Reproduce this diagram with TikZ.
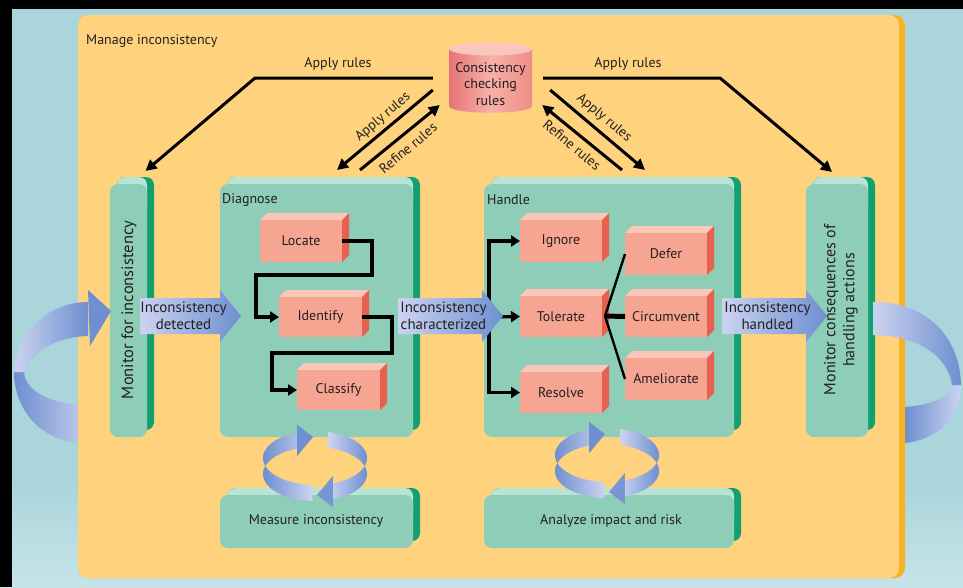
\documentclass[tikz,border=0pt]{standalone}
\usepackage{fontspec}
\setmainfont{PT Sans}
\usetikzlibrary{arrows.meta,calc}

\definecolor{bgblue}{HTML}{A9D5DB}
\definecolor{bgblue2}{HTML}{C6E4E8}
\definecolor{panel}{HTML}{FFD27E}
\definecolor{paneledge}{HTML}{F6B324}
\definecolor{gfront}{HTML}{8ECDB7}
\definecolor{gtop}{HTML}{B9E3D5}
\definecolor{gside}{HTML}{13A071}
\definecolor{pfront}{HTML}{F6A593}
\definecolor{ptop}{HTML}{FAC8B8}
\definecolor{pside}{HTML}{E8604F}
\definecolor{alight}{HTML}{CCD3F0}
\definecolor{adark}{HTML}{6E8FD0}
\definecolor{ink}{HTML}{231F20}
\definecolor{cylA}{HTML}{E67476}
\definecolor{cylB}{HTML}{F7B1A8}
\definecolor{cylC}{HTML}{EE8E88}
\definecolor{cyltop}{HTML}{F9C6BD}

% green 3D slab: x1 y1 x2 y2 name (front face as a node)
\newcommand\greenslab[5]{%
  \fill[gside,rounded corners=8pt] (#1+7,#2-7) rectangle (#3+7,#4-7);
  \fill[gtop,rounded corners=8pt] (#1+7,#2-7) rectangle (#3,#2+30);
  \node[slab,minimum width={#3-#1},minimum height={#4-#2},anchor=north west] (#5) at (#1,#2) {};
}
% pink 3D box with a label
\newcommand\pinkbox[6]{%
  \fill[ptop] (#1,#2) -- (#1+7,#2-7) -- (#3+7,#2-7) -- (#3,#2) -- cycle;
  \fill[pside] (#3,#2) -- (#3+7,#2-7) -- (#3+7,#4-7) -- (#3,#4) -- cycle;
  \node[pbox,minimum width={#3-#1},minimum height={#4-#2},anchor=north west] (#5) at (#1,#2) {#6};
}
% broad shaded arrow carrying a label: x1 x2 ymid name text
\newcommand\fatarrow[5]{%
  \shade[left color=alight,right color=adark] (#1,#3-18) -- (#2-21,#3-18) -- (#2-21,#3-26) -- (#2,#3)
    -- (#2-21,#3+26) -- (#2-21,#3+18) -- (#1,#3+18) -- cycle;
  \node[flabel] (#4) at ({(#1+#2)/2-7},#3) {#5};
}
% pair of circling arrows: centre x, centre y
\newcommand\spinpair[2]{%
  \shade[left color=adark,right color=alight]
    plot[domain=93:250,samples=40] ({#1+52*cos(\x)},{#2+27*sin(\x)})
    -- plot[domain=250:93,samples=40] ({#1+52*cos(\x)},{#2+16+27*sin(\x)}) -- cycle;
  \fill[adark] (#1-17.8,#2-33) -- (#1-2,#2-21) -- (#1-17.8,#2-2) -- cycle;
  \shade[left color=alight,right color=adark]
    plot[domain=285:430,samples=40] ({#1+52*cos(\x)},{#2+27*sin(\x)})
    -- plot[domain=430:285,samples=40] ({#1+52*cos(\x)},{#2+16+27*sin(\x)}) -- cycle;
  \fill[adark!90!alight] (#1+17.8,#2+18) -- (#1+2,#2+37) -- (#1+17.8,#2+49) -- cycle;
}

\begin{document}
\begin{tikzpicture}[x=1pt,y=-1pt,
  font=\fontsize{14}{16}\selectfont, text=ink,
  slab/.style={fill=gfront,rounded corners=8pt,inner sep=0pt,outer sep=0pt},
  pbox/.style={fill=pfront,inner sep=0pt,outer sep=0pt},
  flabel/.style={align=center,font=\fontsize{15}{16.5}\selectfont,inner sep=0pt},
  link/.style={line width=3.2pt,-{Triangle[length=9pt,width=11pt]}},
  fan/.style={line width=2.4pt},
  conn/.style={line width=3pt,-{Triangle[length=11pt,width=11pt]}},
  lab/.style={font=\fontsize{14}{15}\selectfont,inner sep=0pt}]
\useasboundingbox (0,0) rectangle (963,587);

% backdrop and frame
\fill[bgblue] (0,0) rectangle (963,480);
\shade[top color=bgblue,bottom color=bgblue2] (0,480) rectangle (963,587);
\fill[black] (0,0) rectangle (963,9);
\fill[black] (0,0) rectangle (12,587);

% lower halves of the outer loop arrows
\shade[left color=adark,right color=alight!80!adark]
  (14,372) .. controls (15,415) and (45,440) .. (78,443) -- (78,405)
  .. controls (50,402) and (26,392) .. (24,372) -- cycle;
\shade[left color=adark,right color=alight]
  (961,385) .. controls (961,420) and (935,440) .. (905,443) -- (905,407)
  .. controls (930,405) and (950,398) .. (952,385) -- cycle;

% main panel
\fill[paneledge,rounded corners=10pt] (78,15) rectangle (905,578);
\fill[panel,rounded corners=10pt] (78,15) rectangle (899,578);
\node[anchor=west,inner sep=0pt] (title) at (86,41) {Manage inconsistency};

% process slabs
\greenslab{110}{184}{147}{437}{monL}
\greenslab{220}{184}{413}{437}{diag}
\greenslab{484}{184}{734}{437}{handle}
\greenslab{806}{184}{868}{437}{monR}
\greenslab{220}{495}{413}{548}{measure}
\greenslab{484}{495}{734}{548}{analyze}

\node[anchor=west,inner sep=0pt] (tdiag) at (222,200) {Diagnose};
\node[anchor=west,inner sep=0pt] (thandle) at (487,200) {Handle};
\node[rotate=90,font=\fontsize{16.5}{19}\selectfont,inner sep=0pt] (tmonL) at (129,310) {Monitor for inconsistency};
\node[rotate=90,align=center,font=\fontsize{16}{19}\selectfont,inner sep=0pt] (tmonR) at (841,310) {Monitor consequences of\\handling actions};
\node[inner sep=0pt] (tmeasure) at (316,521) {Measure inconsistency};
\node[inner sep=0pt] (tanalyze) at (611,521) {Analyze impact and risk};

% activity boxes
\pinkbox{260}{220}{342}{262}{locate}{Locate}
\pinkbox{279}{297}{362}{337}{identify}{Identify}
\pinkbox{297}{370}{380}{410}{classify}{Classify}
\pinkbox{520}{220}{602}{262}{ignore}{Ignore}
\pinkbox{520}{296}{602}{337}{tolerate}{Tolerate}
\pinkbox{520}{372}{602}{413}{resolve}{Resolve}
\pinkbox{625}{233}{707}{275}{defer}{Defer}
\pinkbox{625}{296}{707}{337}{circumvent}{Circumvent}
\pinkbox{625}{358}{707}{400}{ameliorate}{Ameliorate}

% diagnose sequence
\draw[link] (locate.east) -| (372,275) -| (256,317) -- (identify.west);
\draw[link] (identify.east) -| (392,353) -| (272,390) -- (classify.west);

% handle branches
\coordinate (fork) at (489,317);
\draw[link] (fork) |- (ignore.west);
\draw[link] (fork) |- (resolve.west);
\draw[link] (fork) -- (tolerate.west);
\coordinate (fan) at (605,316);
\draw[fan] (fan) -- (defer.west);
\draw[fan] (fan) -- (ameliorate.west);
\draw[line width=5pt] (fan) -- (circumvent.west);

% flow arrows between stages
\fatarrow{140}{241}{316}{detected}{Inconsistency\\detected}
\fatarrow{398}{503}{316}{charz}{Inconsistency\\characterized}
\fatarrow{722}{827}{316}{handled}{Inconsistency\\handled}

% upper halves of the outer loop arrows
\shade[left color=alight,right color=adark]
  (88,302) .. controls (50,302) and (17,330) .. (14,372) -- (24,372)
  .. controls (32,352) and (55,337) .. (88,336) -- cycle;
\fill[adark] (88,290) -- (111,311) -- (90,346) -- cycle;
\shade[left color=alight,right color=adark]
  (873,302) .. controls (930,302) and (960,340) .. (961,385) -- (952,385)
  .. controls (948,355) and (915,335) .. (873,335) -- cycle;

% feedback cycles
\spinpair{315}{458}
\spinpair{607}{455}

% rule base
\shade[left color=cylA,right color=cylC,middle color=cylB]
  (449,49) -- (449,106) .. controls (449,115) and (532,115) .. (532,106) -- (532,49) -- cycle;
\fill[cyltop] (490.5,49) ellipse [x radius=41.5pt,y radius=6.5pt];
\node[align=center,font=\fontsize{14}{16.5}\selectfont,minimum width=83pt,minimum height=70pt,inner sep=0pt] (rules) at (490.5,84) {Consistency\\checking\\rules};

% rule application and refinement
\draw[conn] ($(rules.west)+(-16,-6)$) -- (255,78) -- ($(monL.north)+(17,-13)$);
\draw[conn] ($(rules.west)+(-16,6)$) -- ($(diag.north)+(20.5,-14)$);
\draw[conn] ($(diag.north)+(43.5,-14)$) -- ($(rules.west)+(-9,21)$);
\draw[conn] ($(rules.east)+(11,-6)$) -- (720,78) -- ($(monR.north)+(-5,-12)$);
\draw[conn] ($(rules.east)+(18,6)$) -- ($(handle.north)+(36,-14)$);
\draw[conn] ($(handle.north)+(13,-14)$) -- ($(rules.east)+(10,21)$);

\node[lab] (la1) at (338,64) {Apply rules};
\node[lab] (la2) at (628,64) {Apply rules};
\node[lab,rotate=40] (la3) at (383,117) {Apply rules};
\node[lab,rotate=40] (lr1) at (408,148) {Refine rules};
\node[lab,rotate=-40] (la4) at (604,118) {Apply rules};
\node[lab,rotate=-40] (lr2) at (572,145) {Refine rules};
\end{tikzpicture}
\end{document}
